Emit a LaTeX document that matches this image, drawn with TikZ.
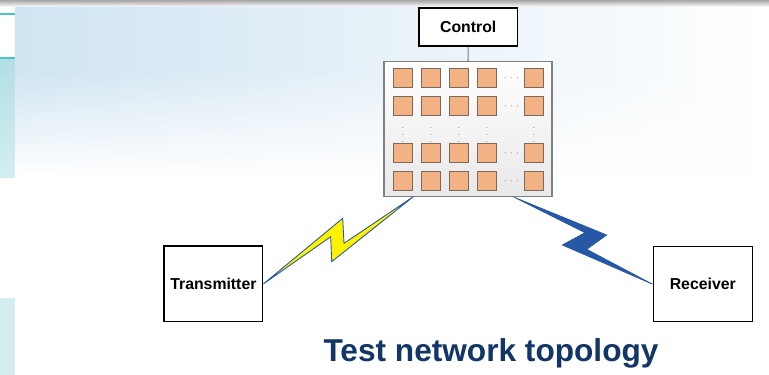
\documentclass[tikz,border=0pt]{standalone}
\usepackage{fontspec}
\setmainfont{Liberation Sans}
\usetikzlibrary{positioning,fadings}
\definecolor{cellfill}{RGB}{242,178,132}
\definecolor{celledge}{RGB}{125,105,90}
\definecolor{titleblue}{RGB}{18,54,104}
\definecolor{boltblue}{RGB}{38,88,166}
\definecolor{stripteal}{RGB}{70,195,205}
\definecolor{skyblue}{RGB}{208,228,242}
\definecolor{stripupper}{RGB}{178,222,230}
\definecolor{striplower}{RGB}{212,238,240}
\begin{document}
\begin{tikzpicture}[x=0.02cm, y=-0.02cm,
  box/.style={draw=black, line width=0.9pt, fill=white, font=\bfseries\fontsize{9}{10}\selectfont},
  cell/.style={draw=celledge, line width=0.5pt, fill=cellfill, minimum size=0.38cm, inner sep=0pt},
  dots/.style={text=gray, font=\tiny, inner sep=0pt}]
\useasboundingbox (0,0) rectangle (769,375);

% background
\fill[white] (0,0) rectangle (769,375);
\shade[left color=skyblue, right color=white] (15,8) rectangle (769,175);
\fill[white, path fading=north] (15,70) rectangle (769,176);
\shade[top color=gray!70, bottom color=white] (0,0) rectangle (769,7);
\shade[top color=stripupper, bottom color=striplower] (0,58) rectangle (15,178);
\fill[striplower] (0,298) rectangle (15,375);
\draw[stripteal, line width=1pt] (0,14) -- (15,14);
\draw[stripteal, line width=1pt] (0,58) -- (15,58);

% control and the array
\node[box, minimum width=1.98cm, minimum height=0.76cm] (ctrl) at (468.2,27.2) {Control};
\node[draw=gray, line width=0.6pt, top color=white, bottom color=gray!18,
  minimum width=3.36cm, minimum height=2.7cm] (mat) at (468,129.3) {};
\draw[gray, line width=0.6pt] (ctrl.south) -- (mat.north);

\foreach \x [count=\i] in {402.8,430.8,458.8,486.8,533.8}
  \foreach \y [count=\j] in {77.8,106.2,152.8,181.2}
    \node[cell] (sq\i\j) at (\x,\y) {};

\node[dots] (hd1) at (511.5,78) {$\cdots$};
\node[dots] (hd2) at (511.5,106) {$\cdots$};
\node[dots] (hd3) at (511.5,153) {$\cdots$};
\node[dots] (hd4) at (511.5,181) {$\cdots$};
\foreach \x [count=\i] in {402.8,430.8,458.8,486.8,533.8}
  \node[dots] (vd\i) at (\x,129.5) {$\vdots$};

% end points
\node[box, minimum width=1.97cm, minimum height=1.51cm] (tx) at (213.4,283.9) {Transmitter};
\node[box, minimum width=1.98cm, minimum height=1.5cm] (rx) at (702.8,284.2) {Receiver};

% radio links
\coordinate (ytip) at (413.3,196.7);
\coordinate (btip) at (514.3,197.3);
\filldraw[fill=yellow, draw=boltblue, line width=0.5pt, line join=miter]
  (tx.east) -- (342.7,218.3) -- (344,243.3) -- (ytip) -- (331.7,261.7) -- (330.7,236.7) -- cycle;
\filldraw[fill=boltblue, draw=boltblue, line width=0.4pt, line join=miter]
  (btip) -- (606.7,235) -- (586.7,249.3) -- (rx.west) -- (562.3,245) -- (585,232.7) -- cycle;

\node[text=titleblue, font=\bfseries\fontsize{18}{20}\selectfont, anchor=base] (title) at (491,361.7) {Test network topology};
\end{tikzpicture}
\end{document}
